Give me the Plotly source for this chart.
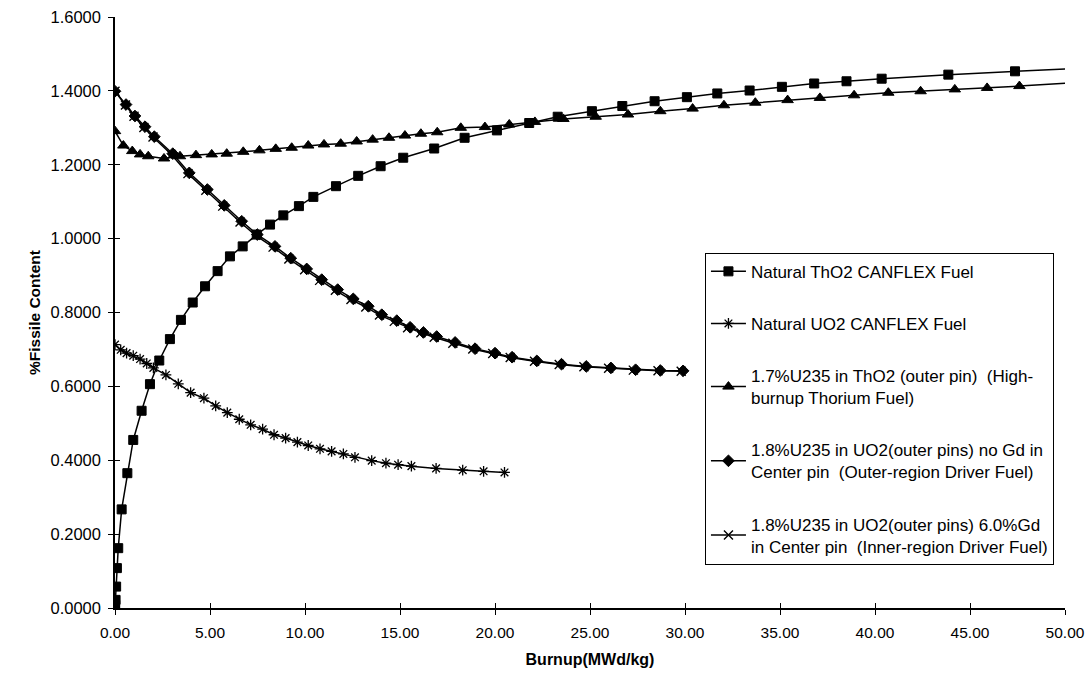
import plotly.graph_objects as go

# ---- data ----
tho2_nat_x = [0, 0.01, 0.03, 0.06, 0.1, 0.17, 0.35, 0.65, 0.96, 1.4, 1.84, 2.33, 2.89, 3.47, 4.09, 4.74,
              5.4, 6.05, 6.72, 7.46, 8.16, 8.86, 9.68, 10.44, 11.63, 12.8, 13.98, 15.17, 16.8, 18.4, 20.1,
              21.8, 23.3, 25.1, 26.7, 28.4, 30.1, 31.7, 33.4, 35.1, 36.8, 38.5, 40.35, 43.86, 47.37, 51.0]
tho2_nat_y = [0.0, 0.008, 0.022, 0.058, 0.108, 0.162, 0.267, 0.365, 0.455, 0.534, 0.606, 0.670, 0.728,
              0.780, 0.827, 0.871, 0.912, 0.952, 0.979, 1.011, 1.038, 1.063, 1.088, 1.113, 1.142, 1.170,
              1.196, 1.219, 1.244, 1.273, 1.293, 1.313, 1.330, 1.345, 1.359, 1.372, 1.383, 1.393, 1.401,
              1.411, 1.420, 1.426, 1.433, 1.444, 1.453, 1.462]

uo2_nat_x = [0, 0.3, 0.61, 0.96, 1.32, 1.67, 2.02, 2.68, 3.33, 3.98, 4.68, 5.3, 5.91, 6.54, 7.14, 7.77,
             8.37, 8.98, 9.6, 10.17, 10.79, 11.4, 12.02, 12.63, 13.51, 14.26, 14.9, 15.6, 16.9, 18.3,
             19.4, 20.5]
uo2_nat_y = [0.713, 0.699, 0.690, 0.683, 0.674, 0.662, 0.650, 0.631, 0.607, 0.583, 0.568, 0.547, 0.529,
             0.511, 0.496, 0.484, 0.469, 0.460, 0.449, 0.440, 0.431, 0.424, 0.417, 0.408, 0.399, 0.392,
             0.388, 0.384, 0.378, 0.373, 0.370, 0.367]

tho2_17_x = [0, 0.44, 0.91, 1.32, 1.75, 2.58, 3.42, 4.26, 5.09, 5.88, 6.75, 7.6, 8.46, 9.3, 10.17, 11.0,
             11.88, 12.72, 13.56, 14.42, 15.26, 16.1, 16.96, 18.2, 19.47, 20.75, 22.1, 23.6, 25.3, 27.0,
             28.7, 30.4, 32.05, 33.7, 35.4, 37.1, 38.9, 40.7, 42.4, 44.2, 45.9, 47.6, 51.0]
tho2_17_y = [1.291, 1.252, 1.237, 1.228, 1.223, 1.217, 1.223, 1.226, 1.228, 1.230, 1.235, 1.239, 1.243,
             1.246, 1.252, 1.255, 1.257, 1.263, 1.268, 1.273, 1.279, 1.284, 1.288, 1.300, 1.302, 1.309,
             1.316, 1.324, 1.330, 1.336, 1.345, 1.352, 1.361, 1.368, 1.375, 1.381, 1.388, 1.395, 1.399,
             1.404, 1.408, 1.413, 1.424]

uo2_18_x = [0, 0.58, 1.05, 1.58, 2.07, 3.04, 3.91, 4.86, 5.75, 6.67, 7.49, 8.42, 9.25, 10.09, 10.88,
            11.72, 12.54, 13.33, 14.04, 14.83, 15.53, 16.23, 16.93, 17.9, 18.95, 20.0, 20.9, 22.2, 23.5,
            24.8, 26.1, 27.4, 28.7, 29.9]
uo2_18_y = [1.399, 1.363, 1.332, 1.303, 1.276, 1.230, 1.178, 1.133, 1.090, 1.047, 1.011, 0.979, 0.947,
            0.918, 0.889, 0.862, 0.837, 0.817, 0.794, 0.778, 0.760, 0.746, 0.735, 0.719, 0.702, 0.690,
            0.679, 0.669, 0.660, 0.654, 0.650, 0.645, 0.643, 0.642]

uo2_18gd_x = [0, 0.55, 1.0, 1.52, 2.0, 2.97, 3.84, 4.78, 5.67, 6.58, 7.4, 8.32, 9.15, 9.98, 10.77,
              11.6, 12.42, 13.2, 13.92, 14.7, 15.4, 16.1, 16.8, 17.78, 18.83, 19.88, 20.8, 22.08, 23.38,
              24.68, 25.98, 27.28, 28.58, 29.8]
uo2_18gd_y = [1.399, 1.362, 1.331, 1.301, 1.275, 1.228, 1.176, 1.131, 1.088, 1.045, 1.009, 0.977, 0.945,
              0.916, 0.887, 0.860, 0.835, 0.815, 0.793, 0.776, 0.759, 0.745, 0.733, 0.717, 0.701, 0.689,
              0.678, 0.668, 0.659, 0.653, 0.649, 0.644, 0.642, 0.641]

names = ["Natural ThO2 CANFLEX Fuel",
         "Natural UO2 CANFLEX Fuel",
         "1.7%U235 in ThO2 (outer pin)  (High-<br>burnup Thorium Fuel)",
         "1.8%U235 in UO2(outer pins) no Gd in<br>Center pin  (Outer-region Driver Fuel)",
         "1.8%U235 in UO2(outer pins) 6.0%Gd<br>in Center pin  (Inner-region Driver Fuel)"]

FONT = "Liberation Sans, Arial, sans-serif"

fig = go.Figure()
series = [
    (tho2_nat_x, tho2_nat_y, "square", 9, 1),
    (uo2_nat_x, uo2_nat_y, "asterisk-open", 9, 1.3),
    (tho2_17_x, tho2_17_y, "triangle-up", 10, 1),
    (uo2_18_x, uo2_18_y, "diamond", 9, 1),
    (uo2_18gd_x, uo2_18gd_y, "x-thin-open", 9, 1.4),
]
for i, (xs, ys, sym, sz, lw) in enumerate(series):
    fig.add_trace(go.Scatter(
        x=xs, y=ys, mode="lines+markers", name=names[i], legendgroup=str(i),
        line=dict(color="black", width=1.5),
        marker=dict(symbol=sym, size=sz, color="black", line=dict(color="black", width=lw)),
    ))

# overlay axes to give crossing tick marks
fig.add_trace(go.Scatter(x=[None], y=[None], xaxis="x2", yaxis="y2", showlegend=False, hoverinfo="skip"))

YMAX = 1.60001

fig.update_layout(
    width=1087, height=673,
    margin=dict(l=115, r=22, t=17, b=65, autoexpand=False),
    paper_bgcolor="white", plot_bgcolor="white",
    font=dict(family=FONT, size=16, color="black"),
    showlegend=True,
    legend=dict(
        x=0.621, y=0.601, xanchor="left", yanchor="top",
        bordercolor="black", borderwidth=1, bgcolor="white",
        font=dict(family=FONT, size=17, color="black"),
        tracegroupgap=27, itemwidth=35,
    ),
    xaxis=dict(
        range=[0, 50], dtick=5, tickformat=".2f", showgrid=False, zeroline=False,
        showline=True, linecolor="black", linewidth=1.5, automargin=False,
        ticks="outside", ticklen=5, tickcolor="black", tickwidth=1,
        tickfont=dict(size=15.5), ticklabelstandoff=5, ticklabeloverflow="allow",
        title=dict(text="<b>Burnup(MWd/kg)</b>", font=dict(size=16), standoff=13),
    ),
    yaxis=dict(
        range=[0, YMAX], dtick=0.2, tickformat=".4f", showgrid=False, zeroline=False,
        showline=True, linecolor="black", linewidth=1.5, automargin=False,
        ticks="outside", ticklen=5, tickcolor="black", tickwidth=1,
        tickfont=dict(size=16.5), ticklabelstandoff=4, ticklabeloverflow="allow",
        title=dict(text="<b>%Fissile Content</b>", font=dict(size=15.5), standoff=6),
    ),
    xaxis2=dict(range=[0, 50], dtick=5, overlaying="x", anchor="y", side="bottom",
                showgrid=False, zeroline=False, showline=False, showticklabels=False,
                ticks="inside", ticklen=5, tickcolor="black", tickwidth=1, automargin=False),
    yaxis2=dict(range=[0, YMAX], dtick=0.2, overlaying="y", anchor="x", side="left",
                showgrid=False, zeroline=False, showline=False, showticklabels=False,
                ticks="inside", ticklen=5, tickcolor="black", tickwidth=1, automargin=False),
)

fig.write_html("out.html", config={"displayModeBar": False},
               post_script="document.body.style.margin='0';")
